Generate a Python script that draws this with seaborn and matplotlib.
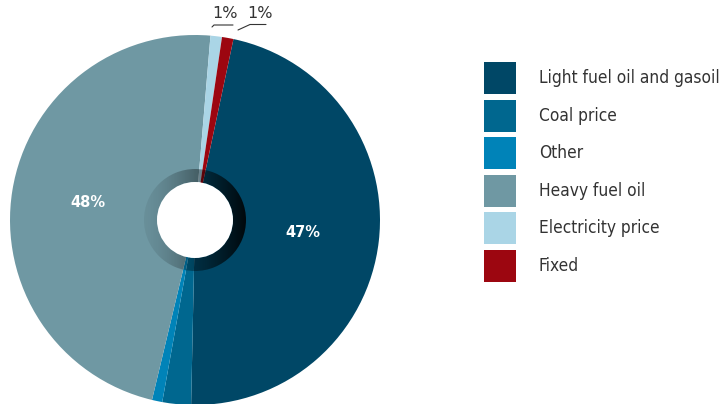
import numpy as np
import matplotlib
matplotlib.use("Agg")
import matplotlib.pyplot as plt
from matplotlib.patches import Wedge, Circle, Rectangle
import seaborn as sns

sns.set_theme(style="white")
plt.rcParams['font.family'] = ['DejaVu Sans']

categories = ["Light fuel oil and gasoil", "Coal price", "Other",
              "Heavy fuel oil", "Electricity price", "Fixed"]
values = [47.0, 2.5, 0.9, 47.6, 1.0, 1.0]
colors = ["#004766", "#00678f", "#0083b8", "#6f98a3", "#aad5e6", "#9c0610"]

W, H = 724, 404
fig = plt.figure(figsize=(W / 100, H / 100), dpi=100)
fig.patch.set_facecolor("white")

cx, cy, R = 195, 220, 185
ax = fig.add_axes([(cx - R) / W, (H - cy - R) / H, 2 * R / W, 2 * R / H])
ax.set_xlim(-1, 1)
ax.set_ylim(-1, 1)
ax.set_aspect("equal")
ax.axis("off")

def big_pct(p):
    return f"{p:.0f}%" if p > 10 else ""

wedges, texts, autotexts = ax.pie(values, colors=colors, startangle=78,
                                  counterclock=False, radius=1.0,
                                  autopct=big_pct, pctdistance=0.585,
                                  wedgeprops=dict(linewidth=0))
for t in autotexts:
    t.set_color("white")
    t.set_fontweight("bold")
    t.set_fontsize(10.5)

# gradient shadow ring around the hole
r1, r2 = 38 / R, 51 / R
grad = np.linspace(0, 1, 256)
img = np.zeros((2, 256, 4))
img[..., 3] = 0.06 + 0.82 * grad ** 1.5
ring = Wedge((0, 0), r2, 0, 360, width=r2 - r1, transform=ax.transData)
im = ax.imshow(img, extent=[-r2, r2, -r2, r2], aspect="auto", zorder=3,
               interpolation="bilinear")
im.set_clip_path(ring)
ax.set_xlim(-1, 1)
ax.set_ylim(-1, 1)
ax.add_patch(Circle((0, 0), r1, facecolor="white", edgecolor="none", zorder=4))

def d(px, py):
    return ((px - cx) / R, (cy - py) / R)

small_labels = [f"{values[4]:.0f}%", f"{values[5]:.0f}%"]
lx, ly = zip(d(212, 27), d(214, 25), d(233, 25))
ax.plot(lx, ly, color="#333333", lw=0.8, clip_on=False)
lx, ly = zip(d(238, 30), d(250, 24.5), d(266, 24.5))
ax.plot(lx, ly, color="#333333", lw=0.8, clip_on=False)
for (px, py), s in zip([(225, 13), (260, 13)], small_labels):
    x, y = d(px, py)
    ax.text(x, y, s, ha="center", va="center", fontsize=11.5,
            color="#333333", clip_on=False)

# legend
fig.canvas.draw()
renderer = fig.canvas.get_renderer()
legend_texts = []
for i, (lab, col) in enumerate(zip(categories, colors)):
    ymid = 78 + i * 37.6
    fig.add_artist(Rectangle((484 / W, (H - ymid - 16) / H), 32 / W, 32 / H,
                             transform=fig.transFigure, facecolor=col,
                             edgecolor="none"))
    t = fig.text(539 / W, (H - ymid) / H, lab, ha="left", va="center",
                 fontsize=12, color="#333333", fontstretch="condensed")
    legend_texts.append(t)

# scale legend text so that the longest label spans ~181 px
wmax = max(t.get_window_extent(renderer).width for t in legend_texts)
fs = 12 * 181 / wmax
for t in legend_texts:
    t.set_fontsize(fs)

fig.savefig("out.png", dpi=100, facecolor="white")
